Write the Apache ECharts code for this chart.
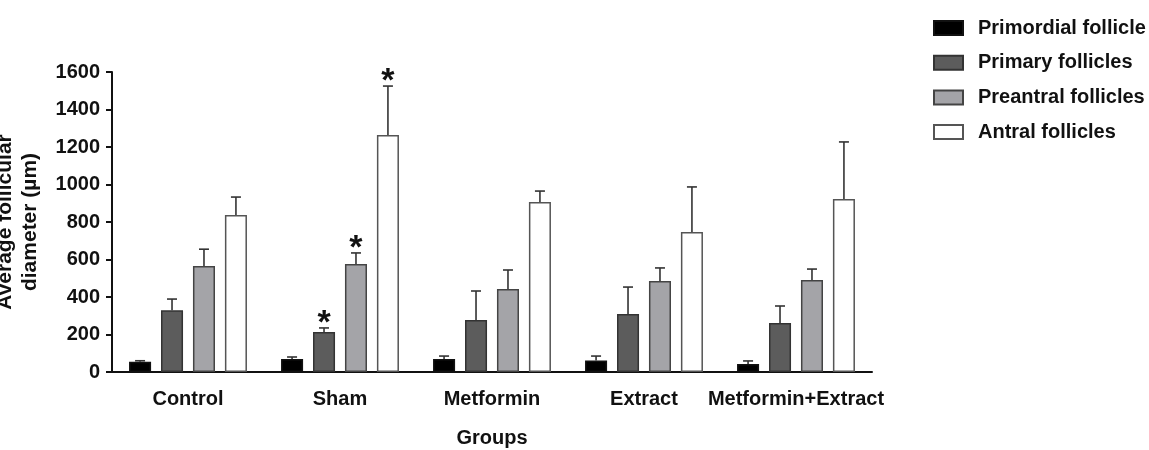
<!DOCTYPE html>
<html>
<head>
<meta charset="utf-8">
<script src="https://cdn.jsdelivr.net/npm/echarts@6/dist/echarts.min.js"></script>
<style>html,body{margin:0;padding:0;background:#fff;}#chart{width:1149px;height:450px;}</style>
</head>
<body>
<div id="chart"></div>
<script>
const categories = ['Control', 'Sham', 'Metformin', 'Extract', 'Metformin+Extract'];
const seriesNames = ['Primordial follicle', 'Primary follicles', 'Preantral follicles', 'Antral follicles'];
const primordialMean = [55, 69, 69, 62, 43];
const primordialErr = [5, 11, 16, 23, 16];
const primaryMean = [330, 213, 277, 309, 261];
const primaryErr = [59, 22, 155, 144, 91];
const preantralMean = [565, 576, 443, 485, 491];
const preantralErr = [90, 59, 101, 70, 58];
const antralMean = [837, 1264, 907, 747, 923];
const antralErr = [96, 261, 58, 240, 304];
// categories (by index) marked with a significance star, per series
const starred = [[], [1], [1], [1]];

const FONT = '"Liberation Sans", Arial, Helvetica, sans-serif';
const colors = ['#000000', '#5c5c5c', '#a4a4a8', '#ffffff'];
const borders = ['#111111', '#333333', '#444444', '#555555'];
const means = [primordialMean, primaryMean, preantralMean, antralMean];
const errs = [primordialErr, primaryErr, preantralErr, antralErr];
const BAR_FRAC = 0.145, GAP_FRAC = 0.45;

const barSeries = seriesNames.map((name, si) => ({
  type: 'bar',
  name: name,
  data: means[si],
  barWidth: (BAR_FRAC * 100) + '%',
  barGap: (GAP_FRAC * 100) + '%',
  itemStyle: { color: colors[si], borderColor: borders[si], borderWidth: 1.5 },
  z: 2
}));

const errSeries = seriesNames.map((name, si) => ({
  type: 'custom',
  name: 'err' + si,
  data: categories.map((c, i) => [i, means[si][i], errs[si][i]]),
  encode: { x: 0, y: 1 },
  z: 3,
  silent: true,
  renderItem: function (params, api) {
    const ci = api.value(0), m = api.value(1), e = api.value(2);
    const band = api.size([1, 0])[0];
    const bw = band * BAR_FRAC;
    const off = bw * (1 + GAP_FRAC) * (si - 1.5);
    const base = api.coord([ci, m]);
    const top = api.coord([ci, m + e]);
    const x = base[0] + off;
    const st = { stroke: '#333', lineWidth: 1.6 };
    const children = [
      { type: 'line', shape: { x1: x, y1: base[1], x2: x, y2: top[1] }, style: st },
      { type: 'line', shape: { x1: x - 5, y1: top[1], x2: x + 5, y2: top[1] }, style: st }
    ];
    if (starred[si].indexOf(ci) >= 0) {
      children.push({
        type: 'text',
        x: x, y: top[1] - 4,
        style: { text: '*', fontSize: 34, fontWeight: 'bold', fontFamily: FONT, fill: '#111',
                 align: 'center', verticalAlign: 'middle', textAlign: 'center', textVerticalAlign: 'middle' }
      });
    }
    return { type: 'group', children: children };
  }
}));

const chart = echarts.init(document.getElementById('chart'), null, { renderer: 'canvas' });
chart.setOption({
  animation: false,
  backgroundColor: '#fff',
  textStyle: { fontFamily: FONT },
  grid: { left: 112, right: 277, top: 72, bottom: 78, containLabel: false, outerBoundsMode: 'none' },
  legend: {
    data: seriesNames,
    orient: 'vertical',
    left: 928, top: 13,
    itemWidth: 29, itemHeight: 14, itemGap: 14.7,
    icon: 'rect',
    textStyle: { fontSize: 20, fontWeight: 'bold', color: '#111', lineHeight: 20, padding: [0, 0, 0, 10], fontFamily: FONT }
  },
  xAxis: {
    type: 'category',
    data: categories,
    name: 'Groups',
    nameLocation: 'middle',
    nameGap: 56,
    nameTextStyle: { fontSize: 20, fontWeight: 'bold', color: '#111', fontFamily: FONT },
    axisLine: { lineStyle: { color: '#111', width: 2 } },
    axisTick: { alignWithLabel: true, length: 7, lineStyle: { width: 2, color: '#111' } },
    axisLabel: { interval: 0, margin: 17, fontSize: 20, fontWeight: 'bold', color: '#111', fontFamily: FONT }
  },
  yAxis: {
    type: 'value',
    min: 0, max: 1600, interval: 200,
    name: 'Average follicular\ndiameter (µm)',
    nameLocation: 'middle',
    nameRotate: 90,
    nameGap: 69,
    nameTextStyle: { fontSize: 21, fontWeight: 'bold', color: '#111', lineHeight: 25, fontFamily: FONT },
    splitLine: { show: false },
    axisLine: { show: true, lineStyle: { color: '#111', width: 2 } },
    axisTick: { show: true, length: 6, lineStyle: { width: 2, color: '#111' } },
    axisLabel: { margin: 12, fontSize: 20, fontWeight: 'bold', color: '#111', fontFamily: FONT, formatter: function (v) { return String(v); } }
  },
  series: barSeries.concat(errSeries)
});
</script>
</body>
</html>
